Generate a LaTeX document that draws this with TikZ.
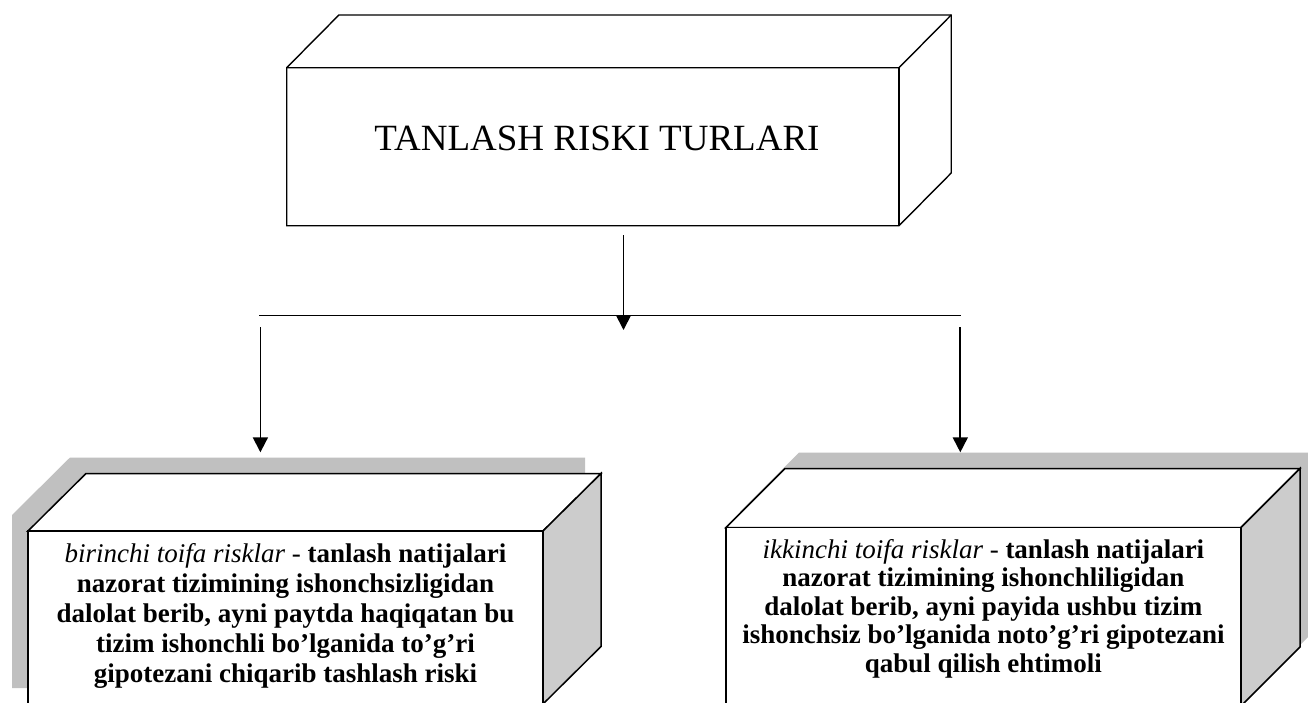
\documentclass[tikz,border=0pt]{standalone}
\usepackage{fontspec}
\setmainfont{Liberation Serif}
\usetikzlibrary{arrows.meta}
\definecolor{boxgray}{RGB}{192,192,192}
\definecolor{sidegray}{RGB}{204,204,204}
\begin{document}
\begin{tikzpicture}[x=1pt,y=-1pt,
  edge/.style={draw=black,line width=1.5pt,line join=miter},
  topedge/.style={draw=black,line width=1.4pt,line join=miter},
  shadow/.style={fill=boxgray,draw=none},
  side/.style={fill=sidegray},
  face/.style={fill=white},
  conn/.style={line width=1.8pt},
  arr/.style={conn,-{Triangle[length=15pt,width=15pt]}},
  bodytext/.style={align=center,inner sep=0pt,font=\fontsize{27}{30}\selectfont\bfseries},
  titletext/.style={inner sep=0pt,font=\fontsize{37}{44}\selectfont}]
\useasboundingbox (0,0) rectangle (1308,702);
\fill[white] (0,0) rectangle (1308,702);

% top cube
\path[topedge,face] (286.7,67.7) -- (338.9,15) -- (951.2,15) -- (951.2,173) -- (899,225.7) -- (286.7,225.7) -- cycle;
\draw[topedge] (286.7,67.7) -- (899,67.7) -- (951.2,15);
\draw[topedge] (899,67.7) -- (899,225.7);
\node[titletext,anchor=base] (title) at (597,150) {TANLASH RISKI TURLARI};

% left cube
\path[shadow] (12,688) -- (12,515) -- (70,457.5) -- (585,457.5) -- (585,630.5) -- (527,688) -- cycle;
\path[edge,face] (28,531) -- (86,473.5) -- (601,473.5) -- (543,531) -- cycle;
\path[edge,side] (543,531) -- (601,473.5) -- (601,646.5) -- (543,704) -- cycle;
\path[edge,face] (28,531) rectangle (543,704);
\node[bodytext,anchor=base] (typeone) at (285.5,682) {{\mdseries\itshape birinchi toifa risklar} {\mdseries -} tanlash natijalari\\
nazorat tizimining ishonchsizligidan\\
dalolat berib, ayni paytda haqiqatan bu\\
tizim ishonchli bo’lganida to’g’ri\\
gipotezani chiqarib tashlash riski};

% right cube
\path[shadow] (740,690) -- (740,511.5) -- (799,452.5) -- (1314,452.5) -- (1314,631) -- (1255,690) -- cycle;
\path[edge,face] (726,527.5) -- (785,468.5) -- (1300,468.5) -- (1241,527.5) -- cycle;
\path[edge,side] (1241,527.5) -- (1300,468.5) -- (1300,647) -- (1241,706) -- cycle;
\path[edge,face] (726,527.5) rectangle (1241,706);
\node[bodytext,anchor=base,font=\fontsize{27}{28.5}\selectfont\bfseries] (typetwo) at (983.4,672) {{\mdseries\itshape ikkinchi toifa risklar} {\mdseries -} tanlash natijalari\\
nazorat tizimining ishonchliligidan\\
dalolat berib, ayni payida ushbu tizim\\
ishonchsiz bo’lganida noto’g’ri gipotezani\\
qabul qilish ehtimoli};

% connectors
\coordinate (src) at (623.5,235);
\coordinate (srcend) at (623.5,330);
\coordinate (busL) at (259.4,315.5);
\coordinate (busR) at (961.2,315.5);
\coordinate (leftstart) at (260.4,327.3);
\coordinate (leftend) at (260.4,452.3);
\coordinate (rightstart) at (960.3,327.3);
\coordinate (rightend) at (960.3,452.3);
\draw[conn] (busL) -- (busR);
\draw[arr] (src) -- (srcend);
\draw[arr] (leftstart) -- (leftend);
\draw[arr] (rightstart) -- (rightend);
\end{tikzpicture}
\end{document}
